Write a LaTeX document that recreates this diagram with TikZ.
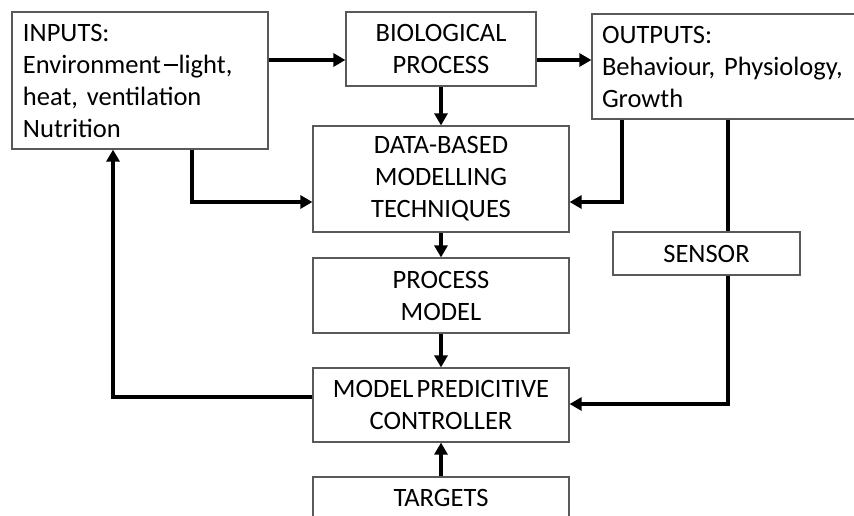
\documentclass[tikz,border=0pt]{standalone}
\usepackage{fontspec}
\setmainfont{Carlito}[WordSpace=0.55]
\usetikzlibrary{arrows.meta}
\begin{document}
\begin{tikzpicture}[x=1pt,y=-1pt,
  box/.style={draw=black!65, line width=1.2pt, rectangle, inner sep=0pt,
    font=\fontsize{26.5}{32}\selectfont, text=black, align=center},
  lbox/.style={box, align=left, inner xsep=10pt},
  arr/.style={line width=3.8pt, -{Triangle[length=12pt,width=13pt]}},
  ln/.style={line width=3.8pt}]
\useasboundingbox (0,0) rectangle (854,515);
\clip (0,0) rectangle (854,515);
\fill[white] (0,0) rectangle (854,515);
\node[lbox, minimum width=256, minimum height=137, text width=234] (inputs) at (140,80.5)
  {INPUTS:\\Environment\kern2.5pt\rule[7.5pt]{14pt}{1.8pt}\kern1pt light,\\heat, ventilation\\Nutrition};
\node[box, minimum width=190, minimum height=74] (bio) at (441,49) {BIOLOGICAL\\PROCESS};
\node[lbox, minimum width=288, minimum height=105, text width=268] (outputs) at (736,66.5)
  {OUTPUTS:\\Behaviour, Physiology,\\Growth};
\node[box, minimum width=256, minimum height=106] (data) at (441,179) {DATA-BASED\\MODELLING\\TECHNIQUES};
\node[box, minimum width=187, minimum height=43] (sensor) at (706.5,253.5) {SENSOR};
\node[box, minimum width=256, minimum height=75] (pm) at (441,295.5) {PROCESS\\MODEL};
\node[box, minimum width=256, minimum height=74] (mpc) at (441,405) {MODEL PREDICITIVE\\CONTROLLER};
\node[box, minimum width=256, minimum height=41] (targets) at (441,497.5) {TARGETS};
\coordinate (ytop) at (0,60);
\coordinate (ymid) at (0,202);
\coordinate (xin) at (192,0);
\coordinate (xout) at (622,0);
\coordinate (xsen) at (728,0);
\coordinate (xfb) at (113,0);
\coordinate (yfb) at (0,397);
\coordinate (ysen) at (0,404);
\draw[arr] (inputs.east |- ytop) -- (bio.west |- ytop);
\draw[arr] (bio.east |- ytop) -- (outputs.west |- ytop);
\draw[arr] (bio.south) -- (data.north);
\draw[arr] (inputs.south -| xin) -- (xin |- ymid) -- (data.west |- ymid);
\draw[arr] (outputs.south -| xout) -- (xout |- ymid) -- (data.east |- ymid);
\draw[ln] (outputs.south -| xsen) -- (sensor.north -| xsen);
\draw[arr] (sensor.south -| xsen) -- (xsen |- ysen) -- (mpc.east |- ysen);
\draw[arr] (data.south) -- (pm.north);
\draw[arr] (pm.south) -- (mpc.north);
\draw[arr] (targets.north) -- (mpc.south);
\draw[arr] (mpc.west |- yfb) -- (xfb |- yfb) -- (inputs.south -| xfb);
\end{tikzpicture}
\end{document}
